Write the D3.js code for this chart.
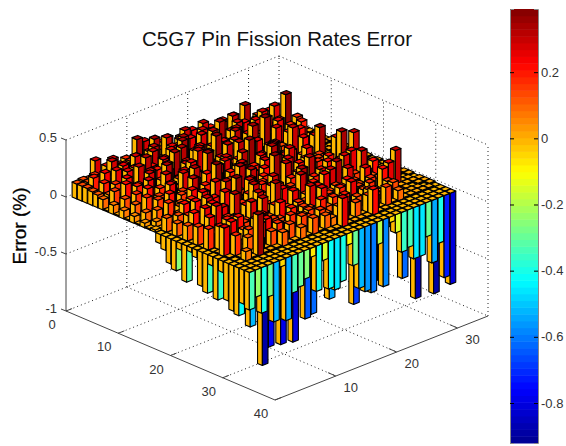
<!DOCTYPE html>
<html>
<head>
<meta charset="utf-8">
<title>C5G7 Pin Fission Rates Error</title>
<script src="https://d3js.org/d3.v7.min.js"></script>
<style>
  body { margin: 0; background: #fff; }
  text { font-family: "Liberation Sans", Arial, sans-serif; fill: #333; }
</style>
</head>
<body>
<div id="chart"></div>
<script>
// error per pin in hundredths of a percent, one row per x index, 34 columns
const errorRows = [
  [13,14,13,27,12,14,16,15,18,16,12,27,15,11,20,14,10,18,9,15,17,8,14,11,16,7,12,1,9,1,5,1,1,1],
  [13,14,18,11,22,26,12,14,18,35,12,20,9,18,26,13,20,10,24,16,8,20,10,22,9,16,2,12,1,4,1,1,0,1],
  [13,20,12,18,28,11,21,9,24,18,10,33,14,30,12,19,30,14,8,30,18,11,24,9,26,8,16,1,18,1,2,0,1,0],
  [12,9,24,17,10,24,13,28,11,20,30,12,14,24,17,10,25,15,28,9,22,13,10,30,12,35,9,19,1,22,1,1,0,1],
  [11,19,10,26,15,9,22,17,12,30,10,18,25,12,32,14,10,28,16,22,33,12,18,9,24,11,14,27,1,28,1,2,1,0],
  [9,11,18,9,25,14,11,31,21,10,24,12,10,33,11,20,15,9,31,12,18,25,30,10,14,26,9,18,1,3,38,1,1,1],
  [1,16,13,23,9,29,17,10,20,27,12,16,31,13,9,26,11,22,10,19,9,29,11,20,9,16,28,1,22,1,2,18,0,1],
  [8,1,22,11,17,9,25,13,10,19,33,11,21,9,28,10,18,12,26,9,31,11,24,9,15,12,1,25,1,17,1,2,1,0],
  [1,13,9,20,12,27,10,17,29,11,13,23,11,30,15,9,37,12,19,27,10,13,33,11,36,20,9,1,15,1,20,1,0,1],
  [7,1,17,9,25,13,10,32,12,16,9,26,15,11,21,12,12,29,10,18,24,9,15,11,9,27,1,19,1,3,1,1,1,0],
  [1,12,1,22,9,18,28,11,12,25,10,19,9,33,10,24,12,15,31,9,13,26,10,18,9,13,1,1,22,1,2,13,1,1],
  [6,1,18,1,15,9,22,10,27,11,17,10,36,12,16,26,10,20,9,30,12,15,9,22,1,1,29,1,1,12,1,1,0,1],
  [1,9,1,16,1,25,11,15,10,31,12,22,10,13,27,9,18,10,37,11,20,9,25,1,13,1,1,17,1,1,2,1,1,0],
  [4,1,11,1,21,1,16,12,26,9,13,11,29,10,19,11,32,12,15,23,9,28,1,9,17,1,24,1,2,1,1,0,1,1],
  [1,5,1,17,1,13,10,30,11,20,10,25,12,16,9,27,11,20,10,13,31,9,19,1,1,13,1,26,1,1,1,1,0,1],
  [2,1,8,1,14,9,24,10,18,11,38,12,13,10,28,9,19,11,25,1,15,10,27,1,1,20,1,35,1,2,1,1,1,0],
  [-8,12,9,12,18,20,10,15,9,27,11,19,9,32,12,13,10,22,9,29,1,17,10,1,25,1,15,1,1,1,2,0,1,1],
  [-12,-3,14,22,10,16,26,9,16,10,22,11,15,9,29,12,19,9,13,10,26,1,1,20,1,16,1,1,28,1,1,1,0,1],
  [-22,11,-2,9,24,16,12,21,10,31,9,13,11,25,9,18,10,37,12,15,1,22,1,9,17,1,13,1,35,1,30,1,1,0],
  [-26,-4,18,12,13,27,19,9,26,11,15,9,28,10,20,1,13,1,30,9,18,1,25,1,1,22,1,15,1,1,2,1,0,1],
  [-6,13,22,8,17,24,10,13,9,38,11,20,9,16,1,27,1,1,19,9,13,31,1,1,21,1,1,17,1,1,1,1,1,0],
  [-32,-5,10,26,14,12,20,9,13,18,9,30,10,13,1,22,1,16,1,27,1,1,20,1,15,1,1,26,1,2,1,0,1,1],
  [-4,16,12,10,28,25,9,32,9,13,1,19,9,27,1,1,16,1,31,1,20,1,13,1,1,28,1,1,18,1,1,1,0,1],
  [-7,-2,24,13,11,18,16,10,22,12,29,9,15,1,24,1,1,30,1,19,1,25,1,1,17,1,1,30,1,1,2,1,1,0],
  [-30,18,12,6,20,19,10,13,27,9,13,1,35,1,1,21,1,15,1,1,26,28,33,1,1,16,1,1,21,1,1,0,1,1],
  [-34,-4,20,10,8,22,15,9,12,30,12,20,9,14,26,10,13,15,22,11,13,16,9,27,14,10,19,12,1,2,1,1,0,1],
  [-8,1,13,24,1,13,9,18,20,10,12,24,9,11,18,10,28,13,9,15,10,17,21,9,13,25,1,12,1,1,30,1,1,0],
  [-36,25,1,9,1,15,10,22,12,16,14,9,19,11,16,13,10,26,12,9,20,10,13,15,9,18,1,22,25,1,1,1,1,1],
  [-10,1,18,1,12,1,20,22,9,14,11,17,9,13,15,9,20,12,18,10,13,25,9,14,18,10,1,13,1,1,1,0,1,1],
  [-33,-5,1,1,1,10,1,13,18,7,13,1,16,13,9,15,10,1,12,20,9,14,1,16,11,1,10,14,1,1,1,1,0,1],
  [-40,-8,8,1,36,1,1,1,12,1,1,10,1,14,1,12,8,1,16,1,13,1,15,12,1,16,1,9,1,1,1,1,1,0],
  [-42,-6,-3,-4,-2,-8,-5,-3,-6,-2,-4,-6,-2,-5,-4,1,1,25,1,1,1,1,22,1,1,-3,-5,-4,-6,-88,-5,-3,-90,-4],
  [-30,-52,-8,-90,-76,-10,-78,-6,-80,-8,-64,-62,-8,-10,-55,-12,-6,-10,-68,-14,-8,-55,-10,-12,-6,-8,-62,-10,-6,-12,-8,-10,-14,-12],
  [-33,-24,-40,-28,-52,-6,-55,-33,-30,-25,-8,-40,-15,-42,-45,-40,-10,-30,-52,-57,-60,-20,-59,-5,-16,-35,-33,-45,-45,-30,-55,-40,-72,-80]
];

const xTicks = [0, 10, 20, 30, 40];
const yTicks = [10, 20, 30];
const zTicks = [-1, -0.5, 0, 0.5];
const zLabels = ["-1", "-0.5", "0", "0.5"];
const colorbarTicks = [0.2, 0, -0.2, -0.4, -0.6, -0.8];
const colorbarLabels = ["0.2", "0", "-0.2", "-0.4", "-0.6", "-0.8"];
const titleText = "C5G7 Pin Fission Rates Error";
const zAxisTitle = "Error (%)";
const errorMin = -0.921;
const errorMax = 0.391;
const xMax = 40;
const yMax = 35;
const barHalf = 0.46;

const width = 566;
const height = 446;

const svg = d3.select("#chart")
  .append("svg")
  .attr("width", width)
  .attr("height", height);

// oblique projection: each data axis adds its own pixel offset
const xToPx = d3.scaleLinear().domain([0, xMax]).range([0, 209]);
const xToPy = d3.scaleLinear().domain([0, xMax]).range([0, 89]);
const yToPx = d3.scaleLinear().domain([0, yMax]).range([0, 213]);
const yToPy = d3.scaleLinear().domain([0, yMax]).range([0, -84]);
const zToPy = d3.scaleLinear().domain([-1, 0.5]).range([311, 140]);

function project(x, y, z)
{
  return [66 + xToPx(x) + yToPx(y), zToPy(z) + xToPy(x) + yToPy(y)];
}

function polygonPoints(corners)
{
  return corners.map(function(c){
    return project(c[0], c[1], c[2]).join(",");
  }).join(" ");
}

// jet colormap, 64 levels like the colorbar
const jetRamp = d3.scaleLinear()
  .domain([0, 0.125, 0.375, 0.625, 0.875, 1])
  .range(["#00008f", "#0000ff", "#00ffff", "#ffff00", "#ff0000", "#800000"]);
const jetColors = d3.range(64).map(function(k){ return jetRamp((k + 0.5) / 64); });
const color = d3.scaleQuantize().domain([errorMin, errorMax]).range(jetColors);

// ---- back walls and floor grid
const gridLines = [];
zTicks.forEach(function(z){
  gridLines.push([[0, 0, z], [0, yMax, z]]);
  gridLines.push([[0, yMax, z], [xMax, yMax, z]]);
});
yTicks.concat([yMax]).forEach(function(y){
  gridLines.push([[0, y, -1], [0, y, 0.5]]);
  if (y < yMax) gridLines.push([[0, y, -1], [xMax, y, -1]]);
});
xTicks.slice(1).forEach(function(x){
  gridLines.push([[x, yMax, -1], [x, yMax, 0.5]]);
  if (x < xMax) gridLines.push([[x, 0, -1], [x, yMax, -1]]);
});

svg.append("g").selectAll("line")
  .data(gridLines)
  .join("line")
  .attr("x1", function(d){ return project(d[0][0], d[0][1], d[0][2])[0]; })
  .attr("y1", function(d){ return project(d[0][0], d[0][1], d[0][2])[1]; })
  .attr("x2", function(d){ return project(d[1][0], d[1][1], d[1][2])[0]; })
  .attr("y2", function(d){ return project(d[1][0], d[1][1], d[1][2])[1]; })
  .attr("stroke", "#222")
  .attr("stroke-width", 1)
  .attr("stroke-dasharray", "1 3");

// ---- bars, painted from the back corner towards the viewer
const faces = [];
errorRows.forEach(function(row, r){
  const x = r + 1;
  for (let c = row.length - 1; c >= 0; c--)
  {
    const y = c + 1;
    const v = row[c] / 100;
    const x0 = x - barHalf, x1 = x + barHalf;
    const y0 = y - barHalf, y1 = y + barHalf;
    // left face keeps the colour of the base, right face takes the bar value
    faces.push({fill: color(0), corners: [[x0, y0, 0], [x1, y0, 0], [x1, y0, v], [x0, y0, v]]});
    faces.push({fill: color(v), corners: [[x1, y0, 0], [x1, y1, 0], [x1, y1, v], [x1, y0, v]]});
    // what is seen from above: the cap for positive bars, the z=0 end for hanging ones
    const capZ = Math.max(v, 0);
    faces.push({fill: color(capZ), corners: [[x0, y0, capZ], [x1, y0, capZ], [x1, y1, capZ], [x0, y1, capZ]]});
  }
});

svg.append("g").selectAll("polygon")
  .data(faces)
  .join("polygon")
  .attr("points", function(d){ return polygonPoints(d.corners); })
  .attr("fill", function(d){ return d.fill; })
  .attr("stroke", "#000")
  .attr("stroke-width", 1.1)
  .attr("stroke-linejoin", "round");

// ---- solid 3D axes
const axisLines = [
  [[0, 0, -1], [0, 0, 0.5]],
  [[0, 0, -1], [xMax, 0, -1]],
  [[xMax, 0, -1], [xMax, yMax, -1]]
];
svg.append("g").selectAll("line")
  .data(axisLines)
  .join("line")
  .attr("x1", function(d){ return project(d[0][0], d[0][1], d[0][2])[0]; })
  .attr("y1", function(d){ return project(d[0][0], d[0][1], d[0][2])[1]; })
  .attr("x2", function(d){ return project(d[1][0], d[1][1], d[1][2])[0]; })
  .attr("y2", function(d){ return project(d[1][0], d[1][1], d[1][2])[1]; })
  .attr("stroke", "#444")
  .attr("stroke-width", 1);

const tickGroup = svg.append("g");

tickGroup.selectAll(".ztick")
  .data(zTicks)
  .join("line")
  .attr("class", "ztick")
  .attr("x1", function(d){ return project(0, 0, d)[0]; })
  .attr("y1", function(d){ return project(0, 0, d)[1]; })
  .attr("x2", function(d){ return project(0, 0, d)[0] - 5; })
  .attr("y2", function(d){ return project(0, 0, d)[1] - 2; })
  .attr("stroke", "#444");

tickGroup.selectAll(".xtick")
  .data(xTicks)
  .join("line")
  .attr("class", "xtick")
  .attr("x1", function(d){ return project(d, 0, -1)[0]; })
  .attr("y1", function(d){ return project(d, 0, -1)[1]; })
  .attr("x2", function(d){ return project(d, 1, -1)[0]; })
  .attr("y2", function(d){ return project(d, 1, -1)[1]; })
  .attr("stroke", "#444");

tickGroup.selectAll(".ytick")
  .data(yTicks)
  .join("line")
  .attr("class", "ytick")
  .attr("x1", function(d){ return project(xMax, d, -1)[0]; })
  .attr("y1", function(d){ return project(xMax, d, -1)[1]; })
  .attr("x2", function(d){ return project(xMax - 1.5, d, -1)[0]; })
  .attr("y2", function(d){ return project(xMax - 1.5, d, -1)[1]; })
  .attr("stroke", "#444");

// ---- tick labels
const labelGroup = svg.append("g").attr("font-size", 13);

labelGroup.selectAll(".zlabel")
  .data(zTicks)
  .join("text")
  .attr("class", "zlabel")
  .attr("x", 57)
  .attr("y", function(d){ return project(0, 0, d)[1] + 2; })
  .attr("text-anchor", "end")
  .text(function(d, i){ return zLabels[i]; });

labelGroup.selectAll(".xlabel")
  .data(xTicks)
  .join("text")
  .attr("class", "xlabel")
  .attr("x", function(d){ return project(d, 0, -1)[0] - 14; })
  .attr("y", function(d){ return project(d, 0, -1)[1] + 18; })
  .attr("text-anchor", "middle")
  .text(function(d){ return d; });

labelGroup.selectAll(".ylabel")
  .data(yTicks)
  .join("text")
  .attr("class", "ylabel")
  .attr("x", function(d){ return project(xMax, d, -1)[0] + 15; })
  .attr("y", function(d){ return project(xMax, d, -1)[1] + 16; })
  .attr("text-anchor", "middle")
  .text(function(d){ return d; });

// ---- titles
svg.append("text")
  .attr("x", 277)
  .attr("y", 46)
  .attr("text-anchor", "middle")
  .attr("font-size", 20.5)
  .style("fill", "#111")
  .text(titleText);

svg.append("text")
  .attr("transform", "translate(26,226) rotate(-90)")
  .attr("text-anchor", "middle")
  .attr("font-size", 19)
  .style("fill", "#000")
  .style("stroke", "#000")
  .style("stroke-width", 0.3)
  .text(zAxisTitle);

// ---- colorbar
const barLeft = 510;
const barRight = 538;
const barY = d3.scaleLinear().domain([errorMin, errorMax]).range([443, 9]);
const bandH = (barY(errorMin) - barY(errorMax)) / jetColors.length;

const colorbar = svg.append("g");

colorbar.selectAll("rect")
  .data(jetColors)
  .join("rect")
  .attr("x", barLeft)
  .attr("y", function(d, i){ return barY(errorMin) - (i + 1) * bandH; })
  .attr("width", barRight - barLeft)
  .attr("height", bandH + 0.5)
  .attr("fill", function(d){ return d; });

const rightAxis = d3.axisRight(barY)
  .tickValues(colorbarTicks)
  .tickSize(-4)
  .tickPadding(7)
  .tickFormat(function(d, i){ return colorbarLabels[i]; });

const leftAxis = d3.axisLeft(barY)
  .tickValues(colorbarTicks)
  .tickSize(-4)
  .tickFormat("");

colorbar.append("g")
  .attr("transform", "translate(" + barRight + ",0)")
  .call(rightAxis)
  .call(function(g){
    g.selectAll("text").attr("font-size", 13).attr("font-family", null).style("fill", "#333").attr("x", 3);
    g.select(".domain").attr("stroke", "#888");
    g.selectAll("line").attr("stroke", "#000");
  });

colorbar.append("g")
  .attr("transform", "translate(" + barLeft + ",0)")
  .call(leftAxis)
  .call(function(g){
    g.select(".domain").attr("stroke", "#888");
    g.selectAll("line").attr("stroke", "#000");
  });
</script>
</body>
</html>
